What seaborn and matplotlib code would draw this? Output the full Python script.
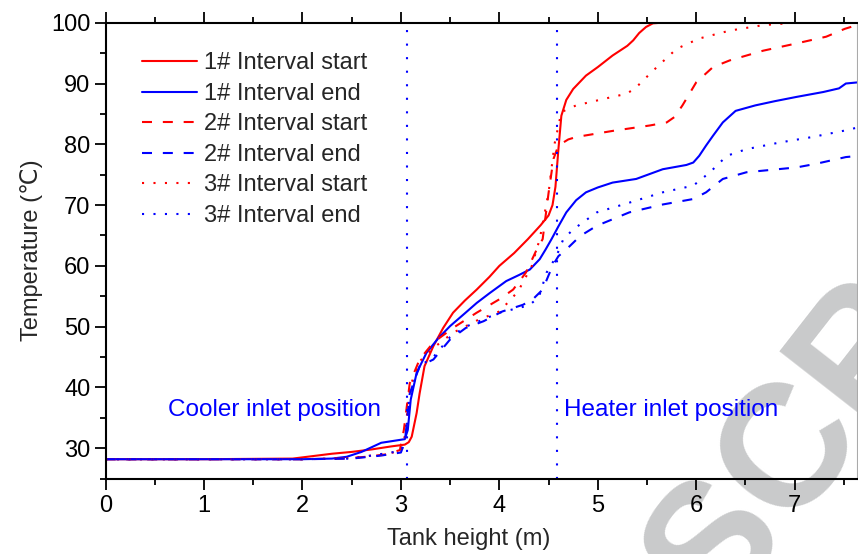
import numpy as np
import pandas as pd
import matplotlib
matplotlib.use("Agg")
import matplotlib.pyplot as plt
from matplotlib.ticker import MultipleLocator
import seaborn as sns

# ---- data ----
x_1s = [0, 1.0, 1.9, 2.1, 2.3, 2.5, 2.7, 2.9, 3.04, 3.08, 3.11, 3.16, 3.19, 3.24, 3.33, 3.43, 3.53, 3.65,
        3.77, 3.9, 4.0, 4.15, 4.29, 4.42, 4.5, 4.54, 4.57, 4.6, 4.63, 4.68, 4.75, 4.88, 5.0, 5.15, 5.3,
        5.36, 5.42, 5.49, 5.56, 5.65, 6.0, 7.0, 7.65]
y_1s = [28.2, 28.2, 28.3, 28.7, 29.1, 29.4, 29.8, 30.3, 30.6, 31.0, 31.9, 35.8, 39.0, 43.5, 46.8, 49.8,
        52.3, 54.3, 56.1, 58.2, 60.0, 62.1, 64.4, 66.7, 68.3, 70.0, 73.0, 79.2, 84.7, 87.3, 89.1, 91.3,
        92.7, 94.6, 96.2, 97.1, 98.3, 99.3, 99.9, 100, 100, 100, 100]

x_1e = [0, 1.0, 2.0, 2.3, 2.45, 2.6, 2.72, 2.8, 2.92, 3.04, 3.07, 3.1, 3.16, 3.26, 3.38, 3.5, 3.65, 3.77,
        3.9, 4.07, 4.2, 4.31, 4.41, 4.47, 4.53, 4.6, 4.68, 4.78, 4.88, 5.0, 5.15, 5.39, 5.66, 5.9, 5.97,
        6.03, 6.1, 6.17, 6.27, 6.4, 6.6, 6.8, 7.02, 7.29, 7.45, 7.52, 7.65]
y_1e = [28.2, 28.2, 28.2, 28.3, 28.6, 29.4, 30.3, 30.9, 31.2, 31.5, 33.0, 38.0, 42.4, 45.7, 48.1, 50.1,
        52.2, 53.9, 55.5, 57.5, 58.5, 59.4, 61.1, 62.7, 64.4, 66.5, 68.8, 70.8, 72.1, 72.9, 73.7, 74.3,
        75.9, 76.6, 77.0, 78.1, 79.8, 81.4, 83.6, 85.5, 86.4, 87.1, 87.8, 88.6, 89.2, 90.0, 90.2]

x_2s = [0, 2.0, 2.4, 2.65, 2.85, 2.99, 3.03, 3.09, 3.19, 3.33, 3.53, 3.77, 4.0, 4.14, 4.27, 4.38, 4.44,
        4.5, 4.55, 4.6, 4.7, 4.78, 5.15, 5.53, 5.7, 5.78, 5.86, 6.0, 6.17, 6.34, 6.68, 7.02, 7.32, 7.51, 7.63]
y_2s = [28.2, 28.2, 28.3, 28.6, 29.0, 29.7, 33.0, 40.7, 44.6, 47.4, 49.8, 52.3, 54.5, 56.1, 58.9, 62.7,
        64.4, 72.0, 77.6, 79.8, 80.8, 81.2, 82.2, 83.1, 83.6, 84.5, 86.4, 90.2, 92.7, 93.8, 95.4, 96.6,
        97.7, 99.0, 99.6]

x_2e = [0, 2.0, 2.5, 2.8, 3.0, 3.04, 3.09, 3.19, 3.33, 3.5, 3.66, 3.84, 4.03, 4.24, 4.34, 4.44, 4.54,
        4.6, 4.68, 4.82, 4.99, 5.32, 5.66, 5.97, 6.1, 6.27, 6.51, 7.02, 7.22, 7.52, 7.65]
y_2e = [28.2, 28.2, 28.3, 28.8, 29.3, 31.0, 39.0, 43.5, 44.6, 47.9, 49.8, 50.9, 52.5, 53.6, 54.5, 56.1,
        60.0, 61.6, 62.7, 64.9, 66.6, 68.8, 70.1, 71.0, 72.1, 74.3, 75.4, 76.2, 76.8, 77.9, 78.1]

x_3s = [0, 2.0, 2.5, 2.8, 3.0, 3.04, 3.09, 3.19, 3.33, 3.53, 3.77, 4.0, 4.1, 4.19, 4.33, 4.41, 4.5, 4.56,
        4.63, 4.78, 5.15, 5.29, 5.38, 5.46, 5.6, 5.8, 6.03, 6.34, 6.68, 7.0, 7.65]
y_3s = [28.2, 28.2, 28.4, 29.0, 29.5, 32.0, 40.0, 44.3, 46.5, 49.0, 51.0, 52.5, 54.2, 55.8, 60.0, 64.4,
        72.0, 80.0, 85.3, 86.4, 87.8, 88.3, 89.2, 90.5, 92.7, 95.7, 97.4, 98.7, 99.6, 100, 100]

x_3e = [0, 2.0, 2.5, 2.7, 2.9, 3.0, 3.04, 3.09, 3.19, 3.33, 3.5, 3.66, 3.84, 4.0, 4.3, 4.4, 4.48, 4.58,
        4.65, 4.75, 4.99, 5.32, 5.66, 5.97, 6.14, 6.31, 6.51, 6.85, 7.18, 7.49, 7.65]
y_3e = [28.2, 28.2, 28.3, 28.8, 29.3, 29.6, 31.0, 39.0, 43.5, 45.0, 48.3, 50.0, 51.2, 52.3, 53.5, 54.8,
        58.9, 61.6, 64.4, 66.0, 68.8, 70.4, 72.1, 73.2, 75.4, 78.1, 79.2, 80.3, 81.2, 82.2, 82.8]

labels = ["1# Interval start", "1# Interval end", "2# Interval start",
          "2# Interval end", "3# Interval start", "3# Interval end"]
xs = [x_1s, x_1e, x_2s, x_2e, x_3s, x_3e]
ys = [y_1s, y_1e, y_2s, y_2e, y_3s, y_3e]

cooler_x = 3.06
heater_x = 4.59
x_ticks = [0, 1, 2, 3, 4, 5, 6, 7]
y_ticks = [30, 40, 50, 60, 70, 80, 90, 100]

# ---- style ----
sns.set_style("ticks")
plt.rcParams["font.family"] = ["Liberation Sans", "DejaVu Sans"]

RED = "#ff0000"
BLUE = "#0000ff"
colors = [RED, BLUE, RED, BLUE, RED, BLUE]
styles = ["-", "-", (0, (4.8, 5.2)), (0, (4.8, 5.2)), (0, (1, 4.5)), (0, (1, 4.5))]

fig = plt.figure(figsize=(8.58, 5.54), dpi=100)
ax = fig.add_axes([0.123, 0.136, 0.8755, 0.823])
ax.set_facecolor("none")

for xv, yv, lab, c, ls in zip(xs, ys, labels, colors, styles):
    df = pd.DataFrame({"Tank height (m)": xv, "Temperature": yv})
    sns.lineplot(data=df, x="Tank height (m)", y="Temperature", ax=ax, color=c,
                 linestyle=ls, linewidth=1.5, label=lab, estimator=None, sort=False)

# vertical markers
ax.axvline(cooler_x, color=BLUE, linestyle=(0, (1, 5.5)), linewidth=1.5)
ax.axvline(heater_x, color=BLUE, linestyle=(0, (1, 5.5)), linewidth=1.5)

ax.text(0.63, 36.3, "Cooler inlet position", color=BLUE, fontsize=17.5, va="center", ha="left")
ax.text(4.66, 36.3, "Heater inlet position", color=BLUE, fontsize=17.5, va="center", ha="left")

ax.set_xlim(0, 7.63)
ax.set_ylim(25, 100)
ax.set_xticks(x_ticks)
ax.set_yticks(y_ticks)
ax.xaxis.set_minor_locator(MultipleLocator(0.5))
ax.yaxis.set_minor_locator(MultipleLocator(5))
ax.tick_params(which="both", direction="out", top=True, right=False, labelsize=17,
               width=1.3, colors="black")
ax.tick_params(which="major", length=8)
ax.tick_params(which="minor", length=4)
ax.tick_params(axis="x", labeltop=False, pad=4)
ax.tick_params(axis="y", pad=3)
for side in ["left", "bottom", "top"]:
    ax.spines[side].set_linewidth(1.5)
    ax.spines[side].set_color("black")
ax.spines["right"].set_linewidth(0.8)
ax.spines["right"].set_color("#aaaaaa")

ax.set_xlabel("Tank height (m)", fontsize=17, labelpad=8)
ax.xaxis.label.set_x(0.484)
ax.set_ylabel("Temperature (\u2103)", fontsize=17, labelpad=6)

leg = ax.legend(loc="upper left", bbox_to_anchor=(0.048, 0.935), frameon=False,
                fontsize=17, handlelength=2.35, handletextpad=0.3, labelspacing=0.36,
                borderpad=0, borderaxespad=0)

# faint watermark behind the plot
fig.text(0.745, -0.29, "USCRIPT", fontsize=125, fontweight="bold", color="#c9cacb",
         rotation=52, rotation_mode="anchor", ha="left", va="baseline", zorder=-1)

fig.savefig("out.png", dpi=100)
